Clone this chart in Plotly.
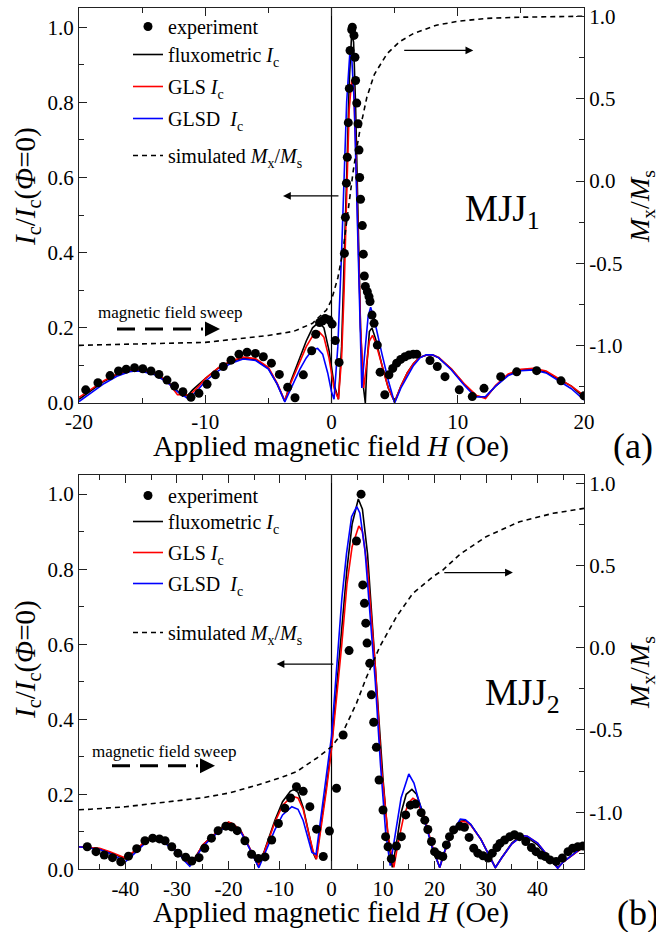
import plotly.graph_objects as go

FONT = "Liberation Serif, Times New Roman, serif"
W, H = 656, 932

# ---------------- data: panel (a) MJJ1 ----------------
a_exp_H = [-19.47, -18.5, -17.54, -16.87, -16.26, -15.6, -14.95, -14.3, -13.67, -13.03, -12.43, -11.77,
           -11.13, -10.5, -9.86, -9.2, -8.57, -7.96, -7.33, -6.69, -6.03, -5.4, -4.76, -4.13, -3.47,
           -2.89, -2.23, -1.57, -1.25, -0.95, -0.73, -0.5, -0.2, 0.05, 0.3, 0.6, 1.02, 1.1, 1.18, 1.25,
           1.33, 1.41, 1.47, 1.6, 1.65, 1.78, 1.86, 1.91, 2.0, 2.1, 2.18, 2.23, 2.3, 2.44, 2.52, 2.6,
           2.68, 2.84, 2.97, 3.05, 3.21, 3.37, 3.63, 3.85, 4.22, 4.55, 4.85, 5.16, 5.48, 5.82, 6.14,
           6.48, 6.75, 7.8, 8.38, 8.99, 10.12, 11.15, 12.08, 13.4, 14.67, 16.25, 18.18, 20.0]
a_exp_I = [0.035, 0.054, 0.073, 0.085, 0.09, 0.094, 0.091, 0.085, 0.076, 0.061, 0.045, 0.03,
           0.015, 0.026, 0.05, 0.075, 0.097, 0.114, 0.13, 0.135, 0.132, 0.123, 0.106, 0.076, 0.042,
           0.014, 0.075, 0.139, 0.183, 0.214, 0.218, 0.225, 0.221, 0.21, 0.166, 0.108, 0.398, 0.494,
           0.585, 0.654, 0.746, 0.837, 0.938, 0.993, 1.0, 0.978, 0.92, 0.858, 0.798, 0.743, 0.673,
           0.6, 0.542, 0.472, 0.396, 0.338, 0.31, 0.296, 0.283, 0.27, 0.234, 0.212, 0.154, 0.082,
           0.022, 0.075, 0.092, 0.106, 0.116, 0.123, 0.128, 0.13, 0.13, 0.113, 0.097, 0.07, 0.035,
           0.017, 0.039, 0.07, 0.083, 0.086, 0.059, 0.019]

a_flux_H = [-20, -19, -18, -17, -16, -15.5, -15, -14, -13, -12.3, -11.8, -11.4, -11, -10, -9, -8, -7,
            -6, -5, -4.3, -3.7, -3.2, -2.5, -2, -1.5, -1.0, -0.6, -0.2, 0.2, 0.55, 0.8, 1.0, 1.2, 1.4,
            1.6, 1.75, 1.9, 2.1, 2.3, 2.5, 2.68, 2.8, 3.0, 3.2, 3.5, 4.0, 4.5, 5.0, 5.5, 6.0, 6.5,
            7.0, 7.5, 8.0, 8.5, 9.5, 10.5, 11.5, 12.2, 13, 14, 15, 16, 17, 18, 19, 20]
a_flux_I = [0.01, 0.035, 0.058, 0.075, 0.086, 0.088, 0.087, 0.078, 0.058, 0.035, 0.018, 0.02, 0.035,
            0.065, 0.092, 0.11, 0.12, 0.115, 0.092, 0.05, 0.005, 0.06, 0.12, 0.165, 0.2, 0.215, 0.2,
            0.14, 0.05, 0.01, 0.15, 0.35, 0.6, 0.85, 0.985, 0.96, 0.8, 0.5, 0.2, 0.05, 0.0, 0.1,
            0.19, 0.2, 0.17, 0.1, 0.04, 0.003, 0.045, 0.08, 0.105, 0.122, 0.127, 0.128, 0.12, 0.09,
            0.05, 0.018, 0.015, 0.045, 0.075, 0.088, 0.09, 0.082, 0.063, 0.045, 0.015]

a_gls_H = [-20, -19, -18, -17, -16, -15.5, -15, -14, -13, -12.2, -11.2, -10.5, -10, -9, -8, -7, -6,
           -5, -4.3, -3.7, -3.2, -2.5, -2, -1.5, -1.0, -0.6, -0.2, 0.2, 0.55, 0.8, 1.0, 1.2, 1.4, 1.6,
           1.75, 1.9, 2.1, 2.3, 2.55, 2.8, 3.0, 3.25, 3.5, 4.0, 4.5, 5.0, 5.5, 6.0, 6.5, 7.0, 7.5,
           8.0, 8.5, 9.5, 10.5, 11.5, 12.2, 13, 14, 15, 16, 17, 18, 19, 20]
a_gls_I = [0.015, 0.037, 0.06, 0.077, 0.087, 0.089, 0.088, 0.08, 0.058, 0.022, 0.022, 0.045, 0.065,
           0.093, 0.112, 0.122, 0.118, 0.095, 0.052, 0.006, 0.055, 0.11, 0.15, 0.178, 0.19, 0.175,
           0.12, 0.04, 0.01, 0.12, 0.3, 0.55, 0.78, 0.86, 0.84, 0.7, 0.45, 0.2, 0.04, 0.12, 0.165,
           0.18, 0.16, 0.1, 0.04, 0.003, 0.045, 0.08, 0.105, 0.122, 0.127, 0.128, 0.121, 0.09, 0.052,
           0.02, 0.012, 0.047, 0.077, 0.09, 0.092, 0.085, 0.066, 0.045, 0.02]

a_glsd_H = [-20, -19, -18, -17, -16, -15.5, -15, -14, -13, -12.2, -11.3, -10.5, -10, -9, -8, -7, -6,
            -5, -4.3, -3.7, -3.2, -2.5, -2, -1.5, -1.1, -0.7, -0.3, 0.0, 0.2, 0.5, 0.8, 1.0, 1.2, 1.45,
            1.6, 1.8, 2.0, 2.2, 2.4, 2.6, 2.9, 3.1, 3.4, 4.0, 4.5, 5.0, 5.5, 6.0, 6.5, 7.0, 7.5, 8.0,
            8.5, 9.5, 10.5, 11.4, 12.2, 13, 14, 15, 16, 17, 18, 19, 20]
a_glsd_I = [0.004, 0.028, 0.052, 0.071, 0.083, 0.085, 0.084, 0.075, 0.055, 0.03, 0.01, 0.038, 0.058,
            0.085, 0.105, 0.117, 0.113, 0.09, 0.05, 0.003, 0.04, 0.09, 0.12, 0.142, 0.145, 0.13, 0.08,
            0.03, 0.01, 0.15, 0.4, 0.6, 0.8, 0.93, 0.92, 0.8, 0.55, 0.25, 0.04, 0.12, 0.23, 0.255,
            0.22, 0.13, 0.06, 0.0, 0.04, 0.07, 0.1, 0.12, 0.128, 0.128, 0.12, 0.088, 0.048, 0.016,
            0.017, 0.045, 0.073, 0.086, 0.088, 0.08, 0.06, 0.038, 0.008]

a_mag_H = [-20, -15, -10, -5, -3, -1.5, -0.4, 0, 0.5, 0.9, 1.2, 1.4, 1.7, 2.0, 2.3, 2.8, 3.4, 4.4,
           5.4, 6.5, 8.3, 10, 12.3, 15, 17.6, 20]
a_mag_M = [-1.0, -0.993, -0.982, -0.94, -0.915, -0.866, -0.785, -0.724, -0.59, -0.43, -0.24, -0.12,
           0.05, 0.2, 0.33, 0.51, 0.65, 0.775, 0.848, 0.898, 0.948, 0.972, 0.99, 0.997, 1.0, 1.003]

# ---------------- data: panel (b) MJJ2 ----------------
b_exp_H = [-47.4, -45.7, -44.1, -42.5, -40.9, -39.4, -37.8, -36.2, -34.7, -33.4, -32.3, -31.0, -29.8,
           -28.3, -27.1, -25.7, -24.6, -23.3, -22.0, -20.5, -19.4, -18.3, -16.8, -15.5, -14.2, -12.9,
           -11.6, -10.3, -9.05, -7.95, -6.8, -5.5, -4.2, -2.9, -1.6, -0.4, 0.97, 2.26, 3.41, 4.84,
           5.74, 6.07, 6.39, 6.65, 6.9, 7.42, 7.74, 8.19, 8.71, 9.23, 10.0, 10.5, 10.97, 11.6, 12.6,
           13.56, 14.4, 15.3, 16.3, 17.4, 18.1, 18.7, 19.4, 20.0, 20.7, 21.6, 22.3, 22.9, 23.7, 24.9,
           25.8, 26.7, 27.6, 28.4, 29.4, 30.4, 31.2, 32.1, 32.7, 33.6, 34.6, 35.5, 36.5, 37.7, 38.8,
           39.7, 40.7, 41.5, 42.4, 43.6, 44.8, 45.9, 46.8, 47.8, 48.8]
b_exp_I = [0.06, 0.047, 0.038, 0.031, 0.02, 0.035, 0.055, 0.076, 0.083, 0.081, 0.076, 0.06, 0.043,
           0.032, 0.022, 0.031, 0.056, 0.083, 0.103, 0.115, 0.113, 0.103, 0.076, 0.04, 0.029, 0.033,
           0.078, 0.122, 0.163, 0.19, 0.22, 0.208, 0.167, 0.107, 0.034, 0.102, 0.216, 0.358, 0.583,
           0.875, 1.0, 0.758, 0.709, 0.656, 0.603, 0.549, 0.465, 0.392, 0.325, 0.238, 0.158, 0.087,
           0.06, 0.028, 0.062, 0.087, 0.145, 0.171, 0.174, 0.151, 0.131, 0.106, 0.074, 0.047, 0.038,
           0.034, 0.065, 0.087, 0.105, 0.115, 0.112, 0.085, 0.056, 0.043, 0.036, 0.03, 0.043, 0.058,
           0.069, 0.078, 0.087, 0.092, 0.087, 0.074, 0.058, 0.047, 0.038, 0.034, 0.025, 0.021, 0.03,
           0.047, 0.056, 0.06, 0.062]

b_flux_H = [-49, -47, -45, -43, -40, -38, -36, -35, -34, -32, -30, -28.5, -27.5, -26.5, -25, -23, -21,
            -20, -19, -17.5, -16, -14.2, -13, -11, -9.5, -8, -7.3, -6.5, -5.5, -4.5, -3.6, -3.0, -2,
            -1, 0, 1.2, 2, 3, 4, 5.2, 6, 7, 8, 8.5, 9, 10, 11, 11.8, 12.5, 13.5, 14.5, 15.6, 16.5,
            18, 19.5, 21, 22, 23.5, 25, 26, 27, 29, 30.5, 31.8, 33, 35, 36.5, 38, 40, 42, 43.9, 45,
            47, 49]
b_flux_I = [0.06, 0.058, 0.055, 0.045, 0.028, 0.05, 0.075, 0.085, 0.082, 0.068, 0.05, 0.025, 0.01,
            0.03, 0.065, 0.09, 0.115, 0.125, 0.12, 0.1, 0.06, 0.008, 0.05, 0.13, 0.18, 0.208, 0.213,
            0.205, 0.165, 0.1, 0.045, 0.027, 0.12, 0.22, 0.327, 0.51, 0.65, 0.8, 0.92, 0.987, 0.96,
            0.84, 0.64, 0.54, 0.44, 0.24, 0.08, 0.005, 0.06, 0.15, 0.2, 0.213, 0.2, 0.14, 0.06, 0.005,
            0.05, 0.1, 0.128, 0.13, 0.12, 0.08, 0.04, 0.005, 0.03, 0.07, 0.088, 0.085, 0.065, 0.035,
            0.005, 0.02, 0.042, 0.062]

b_gls_H = [-49, -47, -45, -43, -40, -38, -36, -35, -34, -32, -30, -28.5, -27.5, -26.5, -25, -23, -21,
           -20, -19, -17.5, -16, -14.2, -13, -11, -9.5, -7.7, -6.5, -5.5, -4.5, -3.5, -2.9, -2, -1, 0,
           1.4, 2, 3, 4, 5.3, 6, 7, 8, 8.5, 9.7, 11, 12.1, 13, 14, 15, 15.8, 16.5, 18, 19.5, 21, 22,
           23.5, 25.2, 26, 27, 29, 30.5, 31.8, 33, 35, 37, 38, 40, 42, 43.9, 45, 47, 49]
b_gls_I = [0.06, 0.058, 0.056, 0.047, 0.03, 0.052, 0.077, 0.086, 0.083, 0.069, 0.05, 0.025, 0.012,
           0.03, 0.065, 0.09, 0.115, 0.126, 0.12, 0.1, 0.06, 0.01, 0.048, 0.125, 0.17, 0.195, 0.19,
           0.16, 0.1, 0.045, 0.027, 0.11, 0.21, 0.32, 0.51, 0.6, 0.76, 0.86, 0.915, 0.9, 0.8, 0.64,
           0.54, 0.27, 0.09, 0.005, 0.075, 0.14, 0.178, 0.189, 0.183, 0.14, 0.065, 0.005, 0.048,
           0.098, 0.127, 0.127, 0.118, 0.08, 0.04, 0.004, 0.03, 0.068, 0.09, 0.088, 0.07, 0.037,
           0.003, 0.02, 0.04, 0.06]

b_glsd_H = [-49, -47, -45, -43, -40, -38, -36, -35, -34, -32, -30, -28.5, -27.5, -26.5, -25, -23, -21,
            -20, -19, -17.5, -16, -14.1, -13, -11, -9.5, -7.7, -6.5, -5.5, -4.5, -3.8, -3.0, -2, -1,
            0, 0.9, 2, 2.9, 3.9, 4.9, 5.5, 6.5, 7.5, 8.5, 9.5, 10.5, 11.4, 12.5, 13.5, 15.0, 16, 17,
            18, 19.5, 21, 22, 23.5, 25, 26, 27, 29, 30.5, 31.8, 33, 35, 37, 38, 40, 42, 43.9, 45, 47,
            49]
b_glsd_I = [0.06, 0.057, 0.053, 0.042, 0.02, 0.045, 0.072, 0.082, 0.08, 0.066, 0.048, 0.022, 0.008,
            0.028, 0.06, 0.087, 0.11, 0.12, 0.116, 0.097, 0.058, 0.004, 0.04, 0.105, 0.145, 0.167,
            0.16, 0.13, 0.08, 0.045, 0.04, 0.15, 0.25, 0.354, 0.52, 0.72, 0.84, 0.94, 0.967, 0.95,
            0.85, 0.68, 0.5, 0.28, 0.1, 0.01, 0.11, 0.19, 0.254, 0.23, 0.18, 0.13, 0.06, 0.005, 0.05,
            0.1, 0.134, 0.132, 0.12, 0.08, 0.04, 0.004, 0.03, 0.068, 0.09, 0.088, 0.07, 0.037, 0.003,
            0.02, 0.04, 0.062]

b_mag_H = [-49, -46.8, -40, -32, -25, -19.7, -13.2, -9.4, -6.8, -2.9, 0, 2.26, 4.84, 6.78, 9.36, 12.6,
           15.8, 19.7, 21.6, 25, 30, 36.5, 43, 49]
b_mag_M = [-0.985, -0.982, -0.967, -0.936, -0.912, -0.882, -0.824, -0.784, -0.754, -0.672, -0.602,
           -0.51, -0.338, -0.18, 0.006, 0.188, 0.331, 0.432, 0.472, 0.57, 0.675, 0.766, 0.817, 0.847]

# ---------------- ticks ----------------
xa_tickvals = [-20, -10, 0, 10, 20]
xa_ticktext = ["-20", "-10", "0", "10", "20"]
xb_tickvals = [-40, -30, -20, -10, 0, 10, 20, 30, 40]
xb_ticktext = ["-40", "-30", "-20", "-10", "0", "10", "20", "30", "40"]
yl_tickvals = [0.0, 0.2, 0.4, 0.6, 0.8, 1.0]
yl_ticktext = ["0.0", "0.2", "0.4", "0.6", "0.8", "1.0"]
yr_tickvals = [-1.0, -0.5, 0.0, 0.5, 1.0]
yr_ticktext = ["-1.0", "-0.5", "0.0", "0.5", "1.0"]

names = ["experiment", "fluxometric <i>I</i><sub>c</sub>", "GLS <i>I</i><sub>c</sub>",
         "GLSD\u2002<i>I</i><sub>c</sub>", "simulated <i>M</i><sub>x</sub>/<i>M</i><sub>s</sub>"]

for arrs in [(a_exp_H, a_exp_I), (a_flux_H, a_flux_I), (a_gls_H, a_gls_I), (a_glsd_H, a_glsd_I),
             (a_mag_H, a_mag_M), (b_exp_H, b_exp_I), (b_flux_H, b_flux_I), (b_gls_H, b_gls_I),
             (b_glsd_H, b_glsd_I), (b_mag_H, b_mag_M)]:
    assert len(arrs[0]) == len(arrs[1]), (len(arrs[0]), len(arrs[1]))


def px(x):
    return x / W


def py(y):
    return 1 - y / H


fig = go.Figure()

panels = [
    dict(xa="x", yl="y", yr="y2", leg="legend", legexp="legend3", legmag="legend5",
         exp=(a_exp_H, a_exp_I), flux=(a_flux_H, a_flux_I), gls=(a_gls_H, a_gls_I),
         glsd=(a_glsd_H, a_glsd_I), mag=(a_mag_H, a_mag_M), tag="a"),
    dict(xa="x2", yl="y3", yr="y4", leg="legend2", legexp="legend4", legmag="legend6",
         exp=(b_exp_H, b_exp_I), flux=(b_flux_H, b_flux_I), gls=(b_gls_H, b_gls_I),
         glsd=(b_glsd_H, b_glsd_I), mag=(b_mag_H, b_mag_M), tag="b"),
]

for p in panels:
    g = p["tag"]
    fig.add_trace(go.Scatter(x=p["flux"][0], y=p["flux"][1], mode="lines", name=names[1],
                             line=dict(color="black", width=1.6), xaxis=p["xa"], yaxis=p["yl"],
                             legend=p["leg"], legendgroup=g + "1", legendrank=2))
    fig.add_trace(go.Scatter(x=p["gls"][0], y=p["gls"][1], mode="lines", name=names[2],
                             line=dict(color="#ff0000", width=1.6), xaxis=p["xa"], yaxis=p["yl"],
                             legend=p["leg"], legendgroup=g + "2", legendrank=3))
    fig.add_trace(go.Scatter(x=p["glsd"][0], y=p["glsd"][1], mode="lines", name=names[3],
                             line=dict(color="#0000ff", width=1.6), xaxis=p["xa"], yaxis=p["yl"],
                             legend=p["leg"], legendgroup=g + "3", legendrank=4))
    fig.add_trace(go.Scatter(x=p["exp"][0], y=p["exp"][1], mode="markers", name=names[0],
                             marker=dict(color="black", size=9), xaxis=p["xa"], yaxis=p["yl"],
                             legend=p["legexp"], legendgroup=g + "0", legendrank=1))
    fig.add_trace(go.Scatter(x=p["mag"][0], y=p["mag"][1], mode="lines", name=names[4],
                             line=dict(color="black", width=1.6, dash="5px,4px"), xaxis=p["xa"],
                             yaxis=p["yr"], legend=p["legmag"], legendgroup=g + "4", legendrank=5))

axis_line = dict(showline=True, linecolor="#222222", linewidth=1.3, ticks="inside", ticklen=8,
                 tickwidth=1.2, tickcolor="#222222", showgrid=False, zeroline=False,
                 tickfont=dict(family=FONT, size=21, color="black"), tickmode="array",
                 automargin=False)
minor_style = dict(ticks="inside", ticklen=5, tickwidth=1.1, tickcolor="#222222", showgrid=False)

xdom = [px(79), px(584)]
dom_a = [py(403), py(8)]
dom_b = [py(869.3), py(475)]

leg_common = dict(xanchor="left", yanchor="top", bgcolor="rgba(0,0,0,0)",
                  font=dict(family=FONT, size=20), traceorder="grouped")

fig.update_layout(
    width=W, height=H, margin=dict(l=0, r=0, t=0, b=0, autoexpand=False),
    paper_bgcolor="white", plot_bgcolor="white",
    font=dict(family=FONT, color="black"),
    xaxis=dict(axis_line, domain=xdom, anchor="y", range=[-20, 20], tickvals=xa_tickvals,
               ticktext=xa_ticktext, mirror="ticks", minor=dict(minor_style, dtick=5, tick0=0)),
    yaxis=dict(axis_line, domain=dom_a, anchor="x", range=[0, 1.051], tickvals=yl_tickvals,
               ticktext=yl_ticktext, minor=dict(minor_style, dtick=0.1, tick0=0)),
    yaxis2=dict(axis_line, overlaying="y", side="right", anchor="x", range=[-1.351, 1.053],
                tickvals=yr_tickvals, ticktext=yr_ticktext,
                minor=dict(minor_style, dtick=0.25, tick0=0)),
    xaxis2=dict(axis_line, domain=xdom, anchor="y3", range=[-49, 49], tickvals=xb_tickvals,
                ticktext=xb_ticktext, mirror="ticks", minor=dict(minor_style, dtick=5, tick0=0)),
    yaxis3=dict(axis_line, domain=dom_b, anchor="x2", range=[0, 1.051], tickvals=yl_tickvals,
                ticktext=yl_ticktext, minor=dict(minor_style, dtick=0.1, tick0=0)),
    yaxis4=dict(axis_line, overlaying="y3", side="right", anchor="x2", range=[-1.347, 1.05],
                tickvals=yr_tickvals, ticktext=yr_ticktext,
                minor=dict(minor_style, dtick=0.25, tick0=0)),
    legend3=dict(leg_common, x=px(128), y=py(7), tracegroupgap=0),
    legend=dict(leg_common, x=px(128), y=py(35), tracegroupgap=3),
    legend5=dict(leg_common, x=px(128), y=py(136), tracegroupgap=0),
    legend4=dict(leg_common, x=px(128), y=py(476), tracegroupgap=0),
    legend2=dict(leg_common, x=px(128), y=py(502), tracegroupgap=2),
    legend6=dict(leg_common, x=px(128), y=py(613), tracegroupgap=0),
    showlegend=True,
)

shapes = []
annotations = []

# vertical lines at H = 0
for xr, yr in [("x", "y domain"), ("x2", "y3 domain")]:
    shapes.append(dict(type="line", xref=xr, yref=yr, x0=0, x1=0, y0=0, y1=1,
                       line=dict(color="black", width=1.2), layer="below"))

# "magnetic field sweep" dashed arrows
for (x0, x1, xh, yy) in [(117, 203, 220, 329), (112, 198, 215, 765.7)]:
    shapes.append(dict(type="line", xref="paper", yref="paper", x0=px(x0), x1=px(x1),
                       y0=py(yy), y1=py(yy), line=dict(color="black", width=3, dash="18px,10px")))
    annotations.append(dict(xref="paper", yref="paper", x=px(xh), y=py(yy), ax=-16, ay=0,
                            showarrow=True, arrowhead=2, arrowsize=1.0, arrowwidth=3,
                            arrowcolor="black", text=""))

# arrows pointing to axes
for (xr, yr, xh, xt, yy) in [("x", "y", -3.84, 0.67, 0.551), ("x", "y", 11.23, 5.64, 0.938),
                             ("x2", "y3", -10.66, 0.64, 0.547), ("x2", "y3", 35.2, 21.6, 0.791)]:
    annotations.append(dict(xref=xr, yref=yr, x=xh, y=yy, axref=xr, ayref=yr, ax=xt, ay=yy,
                            showarrow=True, arrowhead=2, arrowsize=1.2, arrowwidth=1.3,
                            arrowcolor="black", text=""))

tf = dict(family=FONT, color="black")
# sweep text
annotations.append(dict(xref="paper", yref="paper", x=px(169.5), y=py(313), text="magnetic field sweep",
                        showarrow=False, font=dict(tf, size=17), xanchor="center", yanchor="middle"))
annotations.append(dict(xref="paper", yref="paper", x=px(164), y=py(751), text="magnetic field sweep",
                        showarrow=False, font=dict(tf, size=17), xanchor="center", yanchor="middle"))
# sample labels
annotations.append(dict(xref="paper", yref="paper", x=px(463), y=py(212), text="MJJ<sub>1</sub>",
                        showarrow=False, font=dict(tf, size=37), xanchor="left", yanchor="middle"))
annotations.append(dict(xref="paper", yref="paper", x=px(483), y=py(695), text="MJJ<sub>2</sub>",
                        showarrow=False, font=dict(tf, size=37), xanchor="left", yanchor="middle"))
# panel letters
annotations.append(dict(xref="paper", yref="paper", x=px(611), y=py(446), text="(a)",
                        showarrow=False, font=dict(tf, size=36), xanchor="left", yanchor="middle"))
annotations.append(dict(xref="paper", yref="paper", x=px(615), y=py(913), text="(b)",
                        showarrow=False, font=dict(tf, size=36), xanchor="left", yanchor="middle"))
# axis titles
xtitle = "Applied magnetic field <i>H</i> (Oe)"
ytitle = "<i>I</i><sub>c</sub>/<i>I</i><sub>c</sub>(<i>\u03a6</i>=0)"
rtitle = "<i>M</i><sub>x</sub>/<i>M</i><sub>s</sub>"
for yy in [446, 912]:
    annotations.append(dict(xref="paper", yref="paper", x=px(331), y=py(yy), text=xtitle,
                            showarrow=False, font=dict(tf, size=29), xanchor="center",
                            yanchor="middle"))
for yy in [187, 660]:
    annotations.append(dict(xref="paper", yref="paper", x=px(27), y=py(yy), text=ytitle,
                            showarrow=False, font=dict(tf, size=29), textangle=-90,
                            xanchor="center", yanchor="middle"))
for yy in [207, 673]:
    annotations.append(dict(xref="paper", yref="paper", x=px(641), y=py(yy), text=rtitle,
                            showarrow=False, font=dict(tf, size=28), textangle=-90,
                            xanchor="center", yanchor="middle"))

fig.update_layout(shapes=shapes, annotations=annotations)
fig.write_html("out.html", config={"displayModeBar": False},
               post_script="document.body.style.margin='0px';document.body.style.overflow='hidden';")
